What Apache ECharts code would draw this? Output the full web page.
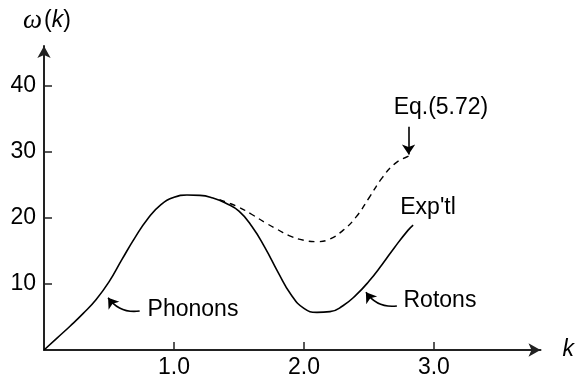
<!DOCTYPE html>
<html>
<head>
<meta charset="utf-8">
<script src="https://cdn.jsdelivr.net/npm/echarts@6/dist/echarts.min.js"></script>
<style>
  html, body { margin: 0; padding: 0; background: #fff; }
  #chart { width: 577px; height: 379px; }
</style>
</head>
<body>
<div id="chart"></div>
<script>
// Measured dispersion curve ω(k) of superfluid helium (solid)
const expK = [0, 0.1, 0.2, 0.3, 0.4, 0.5, 0.6, 0.7, 0.8, 0.9, 1.0, 1.1, 1.2, 1.3, 1.4, 1.5, 1.6, 1.7, 1.8, 1.9, 2.0, 2.1, 2.2, 2.3, 2.4, 2.5, 2.6, 2.7, 2.8, 2.84];
const expW = [0, 1.8, 3.6, 5.5, 7.6, 10.3, 13.7, 17.0, 19.9, 22.0, 23.1, 23.45, 23.4, 23.0, 22.2, 21.0, 18.7, 15.5, 11.8, 8.4, 6.3, 5.7, 5.8, 6.7, 8.3, 10.4, 12.9, 15.6, 18.1, 18.9];

// Theoretical branch from Eq.(5.72) (dashed)
const eqK = [1.35, 1.4, 1.5, 1.6, 1.7, 1.8, 1.9, 2.0, 2.1, 2.2, 2.3, 2.4, 2.5, 2.6, 2.7, 2.8, 2.83];
const eqW = [22.75, 22.4, 21.6, 20.5, 19.3, 18.2, 17.2, 16.6, 16.4, 16.8, 18.1, 20.1, 23.0, 26.0, 28.2, 29.3, 29.5];

// Axis ticks
const xTicks = [1, 2, 3];
const yTicks = [10, 20, 30, 40];

// Text annotations: [label, k, ω] (left edge, vertical middle)
const notes = [
  ['Phonons', 0.797, 6.06],
  ['Rotons', 2.766, 7.42],
  ["Exp'tl", 2.741, 21.6],
  ['Eq.(5.72)', 2.69, 36.7]
];

// Pointer arrows: [[k0, ω0], [k1, ω1], curveness]
const pointers = [
  [[0.736, 5.9], [0.493, 7.92], 0.3],
  [[2.715, 6.67], [2.477, 8.74], 0.3],
  [[2.805, 33.8], [2.805, 29.6], 0]
];

const zip = (a, b) => a.map((v, i) => [v, b[i]]);

const ink = '#000';
const axisInk = '#222';
const sans = 'Liberation Sans, Arial, Helvetica, sans-serif';
const fs = 23;

const chart = echarts.init(document.getElementById('chart'), null, { renderer: 'canvas' });

chart.setOption({
  animation: false,
  backgroundColor: '#fff',
  grid: { left: 44, top: 46, width: 498.5, height: 304 },
  xAxis: {
    type: 'value',
    min: 0,
    max: 3.82,
    name: 'k',
    nameLocation: 'end',
    nameGap: 22,
    nameTextStyle: { fontFamily: sans, fontStyle: 'italic', fontSize: fs, color: ink, verticalAlign: 'middle' },
    axisLine: { show: true, symbol: ['none', 'arrow'], symbolSize: [10, 12], lineStyle: { color: axisInk, width: 2 } },
    axisTick: { show: true, inside: true, length: 8, customValues: xTicks, lineStyle: { color: axisInk, width: 1.5 } },
    axisLabel: { customValues: xTicks, formatter: v => v.toFixed(1), fontFamily: sans, fontSize: fs, color: ink, margin: 6 },
    splitLine: { show: false }
  },
  yAxis: {
    type: 'value',
    min: 0,
    max: 46,
    name: '{w|ω}{p|(}{k|k}{p|)}',
    nameLocation: 'end',
    nameGap: 12,
    nameTextStyle: {
      color: ink,
      padding: [0, 0, 0, 6],
      rich: {
        w: { fontFamily: 'Liberation Serif, Times New Roman, serif', fontStyle: 'italic', fontSize: 27, color: ink, padding: [0, 2, 0, 0] },
        p: { fontFamily: sans, fontSize: fs, color: ink },
        k: { fontFamily: sans, fontStyle: 'italic', fontSize: fs, color: ink }
      }
    },
    axisLine: { show: true, symbol: ['none', 'arrow'], symbolSize: [10, 12], lineStyle: { color: axisInk, width: 2 } },
    axisTick: { show: true, inside: true, length: 8, customValues: yTicks, lineStyle: { color: axisInk, width: 1.5 } },
    axisLabel: { customValues: yTicks, fontFamily: sans, fontSize: fs, color: ink, margin: 8 },
    splitLine: { show: false }
  },
  series: [
    {
      type: 'line',
      data: zip(expK, expW),
      smooth: 0.5,
      symbol: 'none',
      lineStyle: { color: ink, width: 1.6 },
      silent: true,
      markPoint: {
        silent: true,
        symbol: 'circle',
        symbolSize: 0,
        data: notes.map(n => ({ name: n[0], coord: [n[1], n[2]] })),
        label: {
          show: true,
          position: 'right',
          distance: 0,
          formatter: '{b}',
          fontFamily: sans,
          fontSize: fs,
          color: ink
        }
      }
    },
    {
      type: 'line',
      data: zip(eqK, eqW),
      smooth: 0.5,
      symbol: 'none',
      silent: true,
      lineStyle: { color: ink, width: 1.4, type: [6, 5] }
    },
    {
      // Curved pointer arrows tying the labels to the curves
      type: 'lines',
      coordinateSystem: 'cartesian2d',
      silent: true,
      symbol: ['none', 'arrow'],
      symbolSize: 10,
      lineStyle: { color: ink, width: 1.6, opacity: 1 },
      data: pointers.map(p => ({
        coords: [p[0], p[1]],
        lineStyle: { curveness: p[2] }
      }))
    }
  ]
});
</script>
</body>
</html>
